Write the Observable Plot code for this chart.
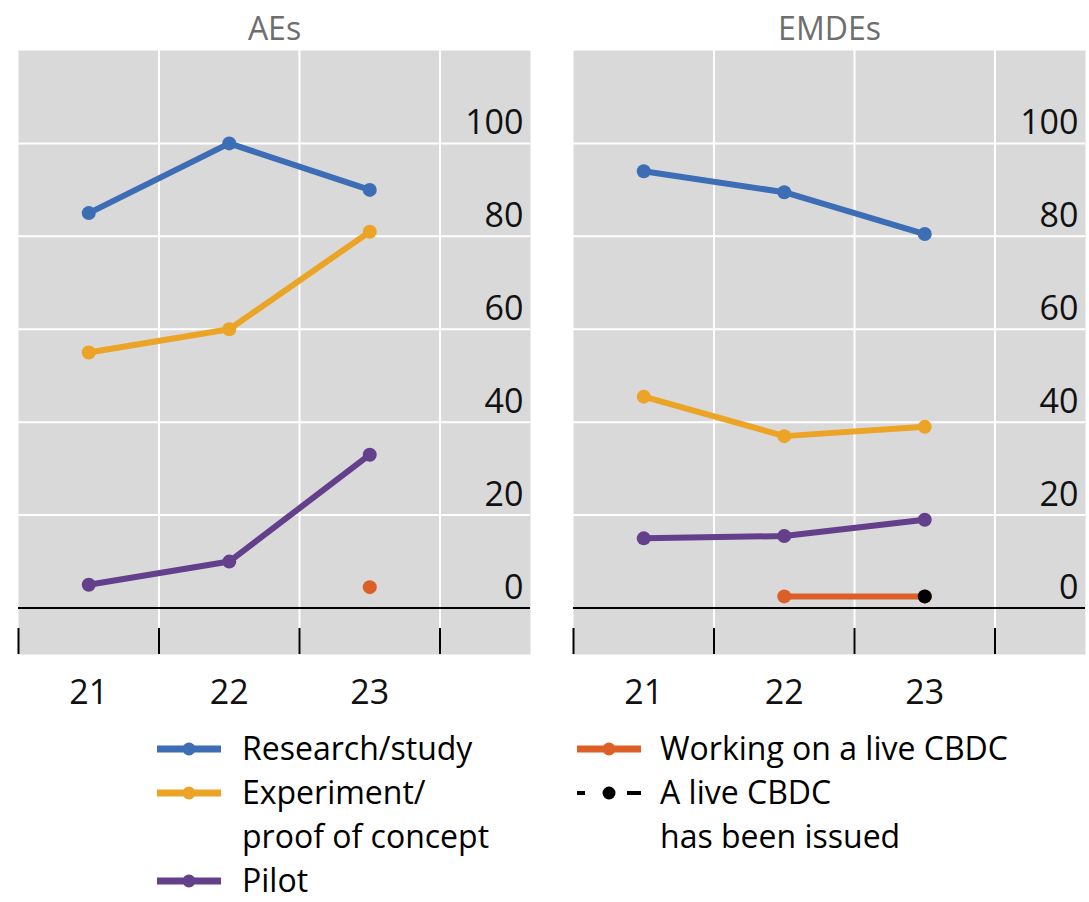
<!DOCTYPE html>
<html>
<head>
<meta charset="utf-8">
<script src="https://cdn.jsdelivr.net/npm/d3@7"></script>
<script src="https://cdn.jsdelivr.net/npm/@observablehq/plot@0.6"></script>
<style>
  body { margin: 0; background: #fff; font-family: "Open Sans", sans-serif; }
  #chart svg { display: block; }
  #legend { position: relative; width: 1089px; height: 187px; font-size: 32px; line-height: 44px; color: #000; }
  .col { position: absolute; top: 11px; }
  .item { display: flex; align-items: flex-start; }
  .item svg { flex: none; display: block; }
  .item .lab { white-space: nowrap; }
  .item .lab div { height: 44px; }
</style>
</head>
<body>
<div id="chart"></div>
<div id="legend"></div>
<script>
// ---- data ----
const regions = ["AEs", "EMDEs"];
const years = [21, 22, 23];
const seriesNames = [
  "Research/study",
  "Experiment/proof of concept",
  "Pilot",
  "Working on a live CBDC",
  "A live CBDC has been issued"
];
const seriesColors = ["#3d6db4", "#eca427", "#643f8b", "#db5f27", "#000000"];

// AEs
const aesResearch   = [85, 100, 90];
const aesExperiment = [55, 60, 81];
const aesPilot      = [5, 10, 33];
const aesWorking    = [null, null, 4.5];
const aesLive       = [null, null, null];
// EMDEs
const emdeResearch   = [94, 89.5, 80.5];
const emdeExperiment = [45.5, 37, 39];
const emdePilot      = [15, 15.5, 19];
const emdeWorking    = [null, 2.5, 2.5];
const emdeLive       = [null, null, 2.5];

const yTicks = [0, 20, 40, 60, 80, 100];
const xBoundaries = [20.5, 21.5, 22.5, 23.5];
const xDomain = [20.5, 24.144];
const yDomain = [-10, 120];
const tickTop = -4.4;

// legend layout text
const legendLeft = [
  {name: seriesNames[0], lines: ["Research/study"]},
  {name: seriesNames[1], lines: ["Experiment/", "proof of concept"]},
  {name: seriesNames[2], lines: ["Pilot"]}
];
const legendRight = [
  {name: seriesNames[3], lines: ["Working on a live CBDC"]},
  {name: seriesNames[4], lines: ["A live CBDC", "has been issued"], dashed: true}
];

// ---- build rows ----
const table = {
  AEs:   [aesResearch, aesExperiment, aesPilot, aesWorking, aesLive],
  EMDEs: [emdeResearch, emdeExperiment, emdePilot, emdeWorking, emdeLive]
};
const rows = [];
for (const region of regions) {
  table[region].forEach((vals, i) => {
    vals.forEach((v, j) => {
      if (v != null) rows.push({region, series: seriesNames[i], year: years[j], value: v});
    });
  });
}

const chart = Plot.plot({
  width: 1089,
  height: 715,
  marginLeft: 18,
  marginRight: 4,
  marginTop: 50,
  marginBottom: 61,
  style: {fontFamily: "Open Sans, sans-serif", background: "white", overflow: "visible"},
  fx: {domain: regions, paddingInner: 0.0775, paddingOuter: 0, label: null},
  x: {domain: xDomain, axis: null},
  y: {domain: yDomain, axis: null},
  color: {domain: seriesNames, range: seriesColors},
  marks: [
    Plot.frame({fill: "#d9d9d9", stroke: null}),
    Plot.ruleX(xBoundaries.slice(1), {x: d => d, stroke: "white", strokeWidth: 2}),
    Plot.ruleY(yTicks.filter(d => d > 0), {y: d => d, stroke: "white", strokeWidth: 2}),
    Plot.ruleY([0], {y: d => d, stroke: "black", strokeWidth: 2}),
    Plot.ruleX(xBoundaries, {x: d => d, y1: yDomain[0], y2: tickTop, stroke: "black", strokeWidth: 2}),
    Plot.line(rows, {fx: "region", x: "year", y: "value", stroke: "series", z: "series", strokeWidth: 6}),
    Plot.dot(rows, {fx: "region", x: "year", y: "value", fill: "series", r: 7}),
    Plot.text(yTicks, {y: d => d, frameAnchor: "right", textAnchor: "end", lineAnchor: "bottom", dx: -7, dy: -9, fontSize: 34, fill: "#111"}),
    Plot.text(years, {x: d => d, frameAnchor: "bottom", lineAnchor: "bottom", dy: 49, fontSize: 34, fill: "#111"}),
    Plot.axisFx({anchor: "top", label: null, tickSize: 0, tickPadding: 11, fontSize: 32, fill: "#6e6e6e"})
  ]
});
document.getElementById("chart").appendChild(chart);

// ---- legend ----
const colorOf = name => seriesColors[seriesNames.indexOf(name)];
function swatch(item) {
  const ns = "http://www.w3.org/2000/svg";
  const svg = document.createElementNS(ns, "svg");
  svg.setAttribute("width", 64);
  svg.setAttribute("height", 44);
  const c = colorOf(item.name);
  const cy = 23;
  if (item.dashed) {
    svg.innerHTML = `<line x1="0" x2="8" y1="${cy}" y2="${cy}" stroke="${c}" stroke-width="4"/>
      <circle cx="32" cy="${cy}" r="6.5" fill="${c}"/>
      <line x1="50" x2="64" y1="${cy}" y2="${cy}" stroke="${c}" stroke-width="4"/>`;
  } else {
    svg.innerHTML = `<line x1="0" x2="64" y1="${cy}" y2="${cy}" stroke="${c}" stroke-width="7"/>
      <circle cx="32" cy="${cy}" r="6.5" fill="${c}"/>`;
  }
  return svg;
}
function column(items, left, gap) {
  const col = document.createElement("div");
  col.className = "col";
  col.style.left = left + "px";
  for (const it of items) {
    const row = document.createElement("div");
    row.className = "item";
    const sw = swatch(it);
    sw.style.marginRight = gap + "px";
    row.appendChild(sw);
    const lab = document.createElement("div");
    lab.className = "lab";
    for (const line of it.lines) {
      const d = document.createElement("div");
      d.textContent = line;
      lab.appendChild(d);
    }
    row.appendChild(lab);
    col.appendChild(row);
  }
  return col;
}
const legend = document.getElementById("legend");
legend.appendChild(column(legendLeft, 157, 21));
legend.appendChild(column(legendRight, 577, 19));
</script>
</body>
</html>
